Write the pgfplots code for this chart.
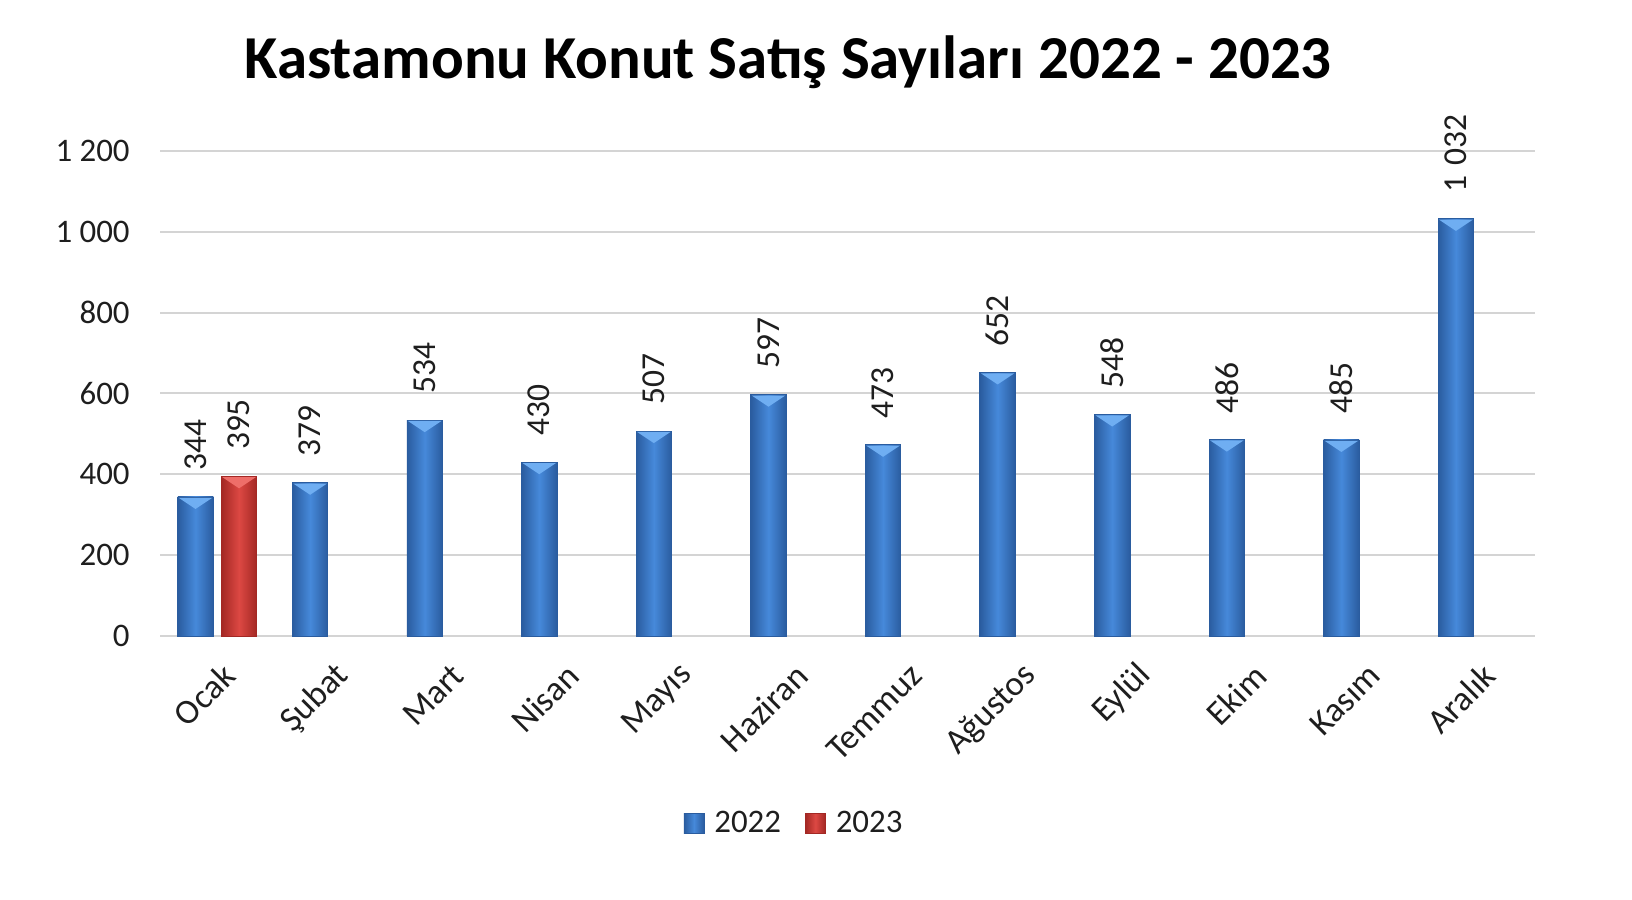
\documentclass[border=0pt]{standalone}
\usepackage{fontspec}
\setmainfont{Carlito}
\usepackage{pgfplots}
\pgfplotsset{compat=1.18}
\definecolor{bluemid}{HTML}{4689DA}
\definecolor{blueedge}{HTML}{2A5C9F}
\definecolor{bluetop}{HTML}{6FAEF2}
\definecolor{redmid}{HTML}{DC4843}
\definecolor{rededge}{HTML}{A32824}
\definecolor{redtop}{HTML}{EE6E69}
\definecolor{txt}{HTML}{1E1E1E}
\pgfdeclareplotmark{bevel}{%
  \pgfpathmoveto{\pgfqpoint{-8.4bp}{-0.4bp}}%
  \pgfpathlineto{\pgfqpoint{8.4bp}{-0.4bp}}%
  \pgfpathlineto{\pgfqpoint{0bp}{-6bp}}%
  \pgfpathclose\pgfusepathqfill}
\begin{document}
\begin{tikzpicture}
\useasboundingbox (0,0) rectangle (816bp,450bp);
\node[font=\fontsize{30.6}{33}\selectfont\bfseries, text=black] at (394bp,419bp) {Kastamonu Konut Satış Sayıları 2022 - 2023};
\begin{axis}[
  at={(80bp,132bp)}, anchor=south west, scale only axis,
  width=687.5bp, height=242.5bp,
  xmin=-0.5, xmax=11.5, ymin=0, ymax=1200,
  ytick={0,200,...,1200},
  xtick={0,...,11},
  xticklabels={Ocak,Şubat,Mart,Nisan,Mayıs,Haziran,Temmuz,Ağustos,Eylül,Ekim,Kasım,Aralık},
  axis line style={draw=none},
  major tick length=0pt,
  ymajorgrids, grid style={black!17, line width=1bp},
  clip=false,
  /pgf/number format/.cd, assume math mode=true, 1000 sep={\kern0.3em}, /pgfplots/.cd,
  ticklabel style={font=\fontsize{16.5}{18}\selectfont, text=txt},
  yticklabel style={inner sep=0pt, xshift=-15bp, /pgf/number format/1000 sep={\kern0.22em}},
  xticklabel style={font=\fontsize{17.5}{19}\selectfont, inner sep=0pt, yshift=-17bp, xshift=6bp, rotate=45, anchor=east},
  bar width=0.31,
  legend style={at={(0.4618,-0.3856)}, anchor=center, draw=none, fill=none, legend columns=2,
    font=\fontsize{16.5}{18}\selectfont, text=txt,
    /tikz/every odd column/.append style={column sep=3bp},
    /tikz/every even column/.append style={column sep=10bp}},
  legend image code/.code={\fill[#1] (0bp,-5bp) rectangle (10bp,5bp);},
  lbl/.style={nodes near coords,
    nodes near coords style={xshift=#1, font=\fontsize{16.8}{18}\selectfont, text=txt, rotate=90, anchor=west, inner xsep=13bp, inner ysep=0pt}},
  b22/.style={ybar, lbl=-10.9bp, bar shift=-0.19, draw=blueedge, line width=0.4bp, left color=blueedge, right color=blueedge, middle color=bluemid},
  b23/.style={ybar, lbl=10.9bp, bar shift=0.19, draw=rededge, line width=0.4bp, left color=rededge, right color=rededge, middle color=redmid},
]
\addplot[b22] coordinates {(0,344)};
\addlegendentry{2022}
\addplot[b23] coordinates {(0,395)};
\addlegendentry{2023}
\addplot[b22, forget plot] coordinates {(1,379)};
\addplot[b22, forget plot] coordinates {(2,534)};
\addplot[b22, forget plot] coordinates {(3,430)};
\addplot[b22, forget plot] coordinates {(4,507)};
\addplot[b22, forget plot] coordinates {(5,597)};
\addplot[b22, forget plot] coordinates {(6,473)};
\addplot[b22, forget plot] coordinates {(7,652)};
\addplot[b22, forget plot] coordinates {(8,548)};
\addplot[b22, forget plot] coordinates {(9,486)};
\addplot[b22, forget plot] coordinates {(10,485)};
\addplot[b22, forget plot] coordinates {(11,1032)};
% bevel highlight at the top of each bar
\addplot[forget plot, only marks, mark=bevel, color=bluetop, fill=bluetop]
  coordinates {(-0.19,344) (0.81,379) (1.81,534) (2.81,430) (3.81,507) (4.81,597) (5.81,473) (6.81,652) (7.81,548) (8.81,486) (9.81,485) (10.81,1032)};
\addplot[forget plot, only marks, mark=bevel, color=redtop, fill=redtop]
  coordinates {(0.19,395)};
\end{axis}
\end{tikzpicture}
\end{document}
